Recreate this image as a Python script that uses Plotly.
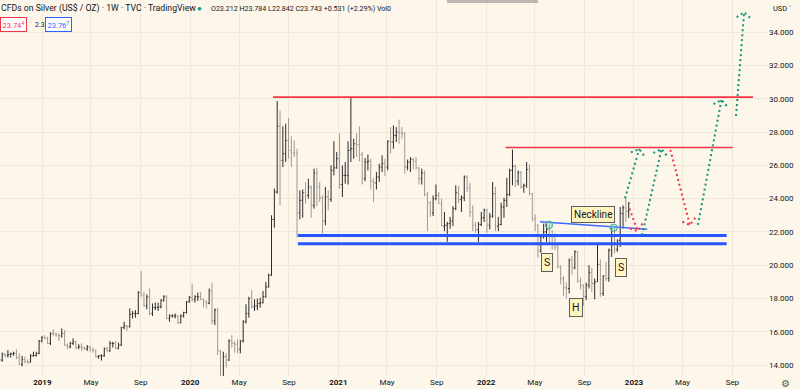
import math
import pandas as pd
import plotly.graph_objects as go

# ---------------- DATA ----------------
FIRST_WEEK = "2018-09-17"   # weekly bars, Monday dates

# [open, high, low, close]
bars_2018 = [
    [14.15, 14.40, 14.10, 14.30], [14.30, 14.75, 14.20, 14.65], [14.65, 14.70, 14.45, 14.58],
    [14.58, 14.90, 14.45, 14.62], [14.62, 14.75, 14.45, 14.68], [14.68, 14.80, 14.55, 14.70],
    [14.70, 14.95, 14.35, 14.45], [14.45, 14.70, 14.00, 14.05], [14.05, 14.55, 13.92, 14.35],
    [14.35, 14.50, 14.10, 14.20], [14.20, 14.35, 14.05, 14.18], [14.18, 14.65, 14.15, 14.55],
    [14.55, 14.80, 14.50, 14.58], [14.58, 14.80, 14.50, 14.70], [14.70, 15.50, 14.65, 15.45],
    [15.45, 15.75, 15.35, 15.65],
]
bars_2019 = [
    [15.65, 15.80, 15.55, 15.60], [15.60, 15.70, 15.25, 15.30], [15.30, 15.95, 15.20, 15.90],
    [15.90, 16.15, 15.75, 15.85], [15.85, 15.95, 15.70, 15.80], [15.80, 15.90, 15.45, 15.75],
    [15.75, 16.20, 15.65, 15.90], [15.90, 16.10, 15.15, 15.20], [15.20, 15.30, 14.95, 15.10],
    [15.10, 15.40, 15.00, 15.30], [15.30, 15.60, 15.20, 15.40], [15.40, 15.45, 14.95, 15.05],
    [15.05, 15.25, 14.95, 15.10], [15.10, 15.30, 14.85, 15.05], [15.05, 15.10, 14.90, 14.98],
    [14.98, 15.20, 14.85, 15.10], [15.10, 15.15, 14.80, 14.95], [14.95, 15.05, 14.75, 14.85],
    [14.85, 14.95, 14.45, 14.50], [14.50, 14.60, 14.38, 14.55], [14.55, 14.65, 14.27, 14.55],
    [14.55, 15.05, 14.50, 14.98], [14.98, 15.10, 14.80, 14.85], [14.85, 15.45, 14.80, 15.30],
    [15.30, 15.40, 15.05, 15.30], [15.30, 15.45, 14.95, 15.00], [15.00, 15.35, 14.95, 15.20],
    [15.20, 16.30, 15.15, 16.25], [16.25, 16.60, 16.15, 16.35], [16.35, 16.40, 16.05, 16.30],
    [16.30, 17.40, 16.25, 17.05], [17.05, 17.25, 16.80, 17.10], [17.10, 17.30, 16.85, 17.10],
    [17.10, 18.45, 17.05, 18.35], [18.35, 19.65, 18.10, 18.20], [18.20, 18.40, 17.50, 17.55],
    [17.55, 18.25, 17.35, 18.10], [18.10, 18.60, 17.00, 17.10], [17.10, 17.70, 16.95, 17.45],
    [17.45, 17.75, 17.30, 17.45], [17.45, 17.75, 17.25, 17.50], [17.50, 17.95, 17.40, 17.90],
    [17.90, 18.20, 17.80, 18.10], [18.10, 18.20, 16.75, 16.80], [16.80, 17.05, 16.60, 16.95],
    [16.95, 17.05, 16.85, 16.95], [16.95, 17.10, 16.80, 16.95], [16.95, 17.00, 16.45, 16.55],
    [16.55, 17.05, 16.50, 16.95], [16.95, 17.20, 16.85, 17.15], [17.15, 17.85, 17.10, 17.80],
    [17.80, 18.15, 17.75, 18.05],
]
bars_2020 = [
    [18.05, 18.90, 17.80, 17.95], [17.95, 18.20, 17.75, 18.10], [18.10, 18.35, 17.85, 18.10],
    [18.10, 18.40, 17.90, 17.95], [17.95, 18.00, 17.45, 17.80], [17.80, 17.90, 17.40, 17.70],
    [17.70, 18.60, 17.65, 18.45], [18.45, 18.95, 16.45, 16.65], [16.65, 17.40, 16.40, 17.30],
    [17.30, 17.45, 14.60, 14.85], [14.85, 14.90, 11.64, 12.55], [12.55, 14.80, 12.45, 14.50],
    [14.50, 14.70, 13.85, 14.30], [14.30, 15.55, 14.25, 15.45], [15.45, 15.80, 15.05, 15.30],
    [15.30, 15.45, 14.75, 15.25], [15.25, 15.55, 14.70, 14.95], [14.95, 15.50, 14.70, 15.45],
    [15.45, 16.70, 15.35, 16.60], [16.60, 17.65, 16.50, 17.10], [17.10, 18.10, 16.85, 18.00],
    [18.00, 18.50, 17.40, 17.50], [17.50, 17.95, 17.25, 17.55], [17.55, 18.00, 17.30, 17.70],
    [17.70, 18.05, 17.45, 17.75], [17.75, 18.45, 17.70, 18.10], [18.10, 19.00, 18.05, 18.70],
    [18.70, 19.50, 18.65, 19.40], [19.40, 23.00, 19.35, 22.75], [22.75, 24.60, 22.25, 24.40],
    [24.40, 29.86, 24.30, 28.35], [28.35, 29.30, 23.60, 26.30], [26.30, 28.35, 25.90, 26.70],
    [26.70, 28.50, 26.20, 27.50], [27.50, 28.85, 26.40, 26.90], [26.90, 27.75, 25.90, 26.75],
    [26.75, 27.50, 26.50, 26.75], [26.75, 27.00, 21.68, 23.15], [23.15, 24.50, 22.75, 23.90],
    [23.90, 24.55, 22.85, 24.35], [24.35, 25.00, 23.70, 24.20], [24.20, 25.20, 24.00, 24.70],
    [24.70, 24.80, 22.85, 23.60], [23.60, 25.80, 23.40, 25.55], [25.55, 25.85, 23.55, 24.70],
    [24.70, 25.00, 23.80, 24.05], [24.05, 24.20, 21.90, 22.65], [22.65, 24.70, 22.40, 24.10],
    [24.10, 24.50, 23.30, 23.95], [23.95, 26.00, 23.80, 25.70], [25.70, 27.45, 25.40, 25.85],
    [25.85, 26.80, 25.80, 26.40],
]
bars_2021 = [
    [26.40, 27.92, 24.60, 24.85], [24.85, 26.00, 24.10, 25.40], [25.40, 26.20, 24.90, 25.40],
    [25.40, 27.45, 24.85, 26.90], [26.90, 30.10, 26.20, 27.00], [27.00, 27.60, 26.40, 27.30],
    [27.30, 27.95, 26.50, 27.25], [27.25, 28.35, 26.25, 26.65], [26.65, 26.80, 24.85, 25.20],
    [25.20, 26.45, 25.05, 26.20], [26.20, 26.65, 25.70, 26.25], [26.25, 26.40, 24.55, 25.05],
    [25.05, 25.25, 23.80, 24.95], [24.95, 25.60, 24.55, 25.30], [25.30, 26.10, 25.00, 25.90],
    [25.90, 26.60, 25.60, 26.10], [26.10, 26.40, 25.35, 25.90], [25.90, 27.50, 25.70, 27.45],
    [27.45, 28.30, 26.70, 27.40], [27.40, 28.40, 27.00, 27.80], [27.80, 28.30, 27.40, 28.00],
    [28.00, 28.75, 27.30, 27.95], [27.95, 28.30, 27.60, 27.90], [27.90, 28.00, 25.50, 25.90],
    [25.90, 26.35, 25.70, 26.20], [26.20, 26.50, 25.60, 26.35], [26.35, 26.45, 25.75, 26.25],
    [26.25, 26.50, 25.75, 25.85], [25.85, 25.90, 24.85, 25.20], [25.20, 25.80, 24.85, 25.55],
    [25.55, 25.70, 24.15, 24.25], [24.25, 24.40, 22.05, 23.75], [23.75, 23.85, 22.90, 23.15],
    [23.15, 24.20, 22.95, 24.00], [24.00, 24.85, 23.90, 24.20], [24.20, 24.40, 23.70, 23.70],
    [23.70, 24.00, 22.35, 22.35], [22.35, 23.20, 22.05, 22.40], [22.40, 22.60, 21.40, 22.50],
    [22.50, 22.90, 22.20, 22.65], [22.65, 23.55, 22.35, 23.40], [23.40, 24.80, 23.30, 24.35],
    [24.35, 24.75, 23.75, 23.95], [23.95, 24.20, 23.20, 24.05], [24.05, 25.40, 23.85, 25.30],
    [25.30, 25.40, 24.40, 24.65], [24.65, 24.95, 22.90, 23.20], [23.20, 23.60, 22.05, 22.40],
    [22.40, 22.60, 21.95, 22.15], [22.15, 22.60, 21.40, 22.45], [22.45, 23.20, 22.35, 22.85],
    [22.85, 23.40, 22.60, 23.30],
]
bars_2022 = [
    [23.30, 23.40, 21.95, 22.40], [22.40, 23.15, 22.15, 22.95], [22.95, 25.00, 22.85, 24.30],
    [24.30, 24.70, 22.05, 22.35], [22.35, 22.90, 22.05, 22.45], [22.45, 23.75, 22.40, 23.50],
    [23.50, 24.05, 22.85, 23.90], [23.90, 25.25, 23.50, 24.25], [24.25, 25.80, 24.15, 25.70],
    [25.70, 26.95, 24.80, 25.95], [25.95, 26.05, 24.70, 25.05], [25.05, 25.70, 24.80, 25.55],
    [25.55, 25.65, 24.60, 24.70], [24.70, 24.90, 24.35, 24.80], [24.80, 26.20, 24.65, 25.75],
    [25.75, 26.05, 24.20, 24.30], [24.30, 24.35, 22.65, 22.80], [22.80, 23.05, 22.05, 22.40],
    [22.40, 22.45, 20.45, 20.85], [20.85, 21.85, 20.75, 21.70], [21.70, 22.50, 21.60, 22.00],
    [22.00, 22.50, 21.40, 22.15], [22.15, 22.45, 21.30, 21.80], [21.80, 22.10, 20.95, 21.70],
    [21.70, 21.90, 20.90, 21.10], [21.10, 21.25, 19.80, 19.90], [19.90, 20.00, 18.85, 19.20],
    [19.20, 19.35, 18.15, 18.65], [18.65, 18.95, 18.00, 18.60], [18.60, 20.40, 18.30, 20.30],
    [20.30, 20.55, 19.45, 19.85], [19.85, 20.90, 19.75, 20.80], [20.80, 20.85, 18.95, 19.05],
    [19.05, 19.25, 18.55, 18.80], [18.80, 18.85, 17.55, 18.10], [18.10, 18.95, 17.90, 18.80],
    [18.80, 20.00, 18.60, 19.55], [19.55, 19.85, 18.40, 18.90], [18.90, 19.20, 17.95, 19.00],
    [19.00, 21.25, 19.00, 20.05], [20.05, 20.35, 18.10, 18.30], [18.30, 19.40, 18.15, 19.35],
    [19.35, 20.20, 19.05, 19.20], [19.20, 21.00, 19.00, 20.90], [20.90, 22.25, 20.50, 21.75],
    [21.75, 22.25, 20.70, 20.95], [20.95, 21.55, 20.80, 21.50], [21.50, 23.50, 21.10, 23.10],
    [23.10, 23.60, 22.20, 23.45], [23.45, 24.10, 22.60, 23.25], [23.21, 23.78, 22.84, 23.74],
]

price_ticks = [14, 16, 18, 20, 22, 24, 26, 28, 30, 32, 34]
time_tick_dates = ["2019-01-01", "2019-05-01", "2019-09-01", "2020-01-01", "2020-05-01",
                   "2020-09-01", "2021-01-01", "2021-05-01", "2021-09-01", "2022-01-01",
                   "2022-05-01", "2022-09-01", "2023-01-01", "2023-05-01", "2023-09-01"]
time_tick_text = ["2019", "May", "Sep", "2020", "May", "Sep", "2021", "May", "Sep",
                  "2022", "May", "Sep", "2023", "May", "Sep"]

# horizontal drawings: [start date, end date, price]
red_top_line = ["2020-07-24", "2023-10-22", 30.10]
red_mid_line = ["2022-02-18", "2023-09-02", 27.07]
blue_upper_line = ["2020-09-23", "2023-08-18", 21.78]
blue_lower_line = ["2020-09-23", "2023-08-18", 21.29]

neckline_dates = ["2022-05-14", "2023-02-03"]
neckline_prices = [22.61, 22.16]
neck_point_dates = ["2022-06-05", "2022-11-12"]
neck_point_prices = [22.42, 22.25]

# projection legs: (dates, prices, colour key)
leg_green_a = (["2022-12-10", "2023-01-14"], [24.02, 26.98], "green")
leg_red_a = (["2022-12-21", "2023-01-10"], [23.40, 22.05], "red")
leg_green_b = (["2023-01-21", "2023-03-10"], [21.81, 26.98], "green")
leg_red_b = (["2023-04-01", "2023-05-19"], [26.93, 22.42], "red")
leg_green_c = (["2023-06-08", "2023-08-05"], [22.42, 29.93], "green")
leg_green_d = (["2023-09-10", "2023-09-30"], [28.97, 35.20], "green")

pattern_labels = ["Neckline", "S", "H", "S"]
pattern_label_dates = ["2022-09-23", "2022-05-31", "2022-08-12", "2022-11-30"]
pattern_label_prices = [23.05, 20.16, 17.43, 19.89]

# ---------------- LAYOUT CONSTANTS ----------------
W, H = 800, 389
M_R, M_B = 32, 13
PLOT_W, PLOT_H = W - M_R, H - M_B
X_RANGE = ["2018-09-18 12:00", "2023-11-28"]
Y_RANGE = [13.34, 35.94]
BG = "#FDF6EB"
GRID = "#F1E8D9"
TXT = "#131722"
FONT = "Roboto, 'Noto Sans', sans-serif"
COL = {"green": "#12957A", "red": "#F23645"}
BLUE = "#2457FF"

all_bars = bars_2018 + bars_2019 + bars_2020 + bars_2021 + bars_2022
dates = pd.date_range(FIRST_WEEK, periods=len(all_bars), freq="W-MON")
opens = [b[0] for b in all_bars]
highs = [b[1] for b in all_bars]
lows = [b[2] for b in all_bars]
closes = [b[3] for b in all_bars]

x0 = pd.Timestamp(X_RANGE[0])
x1 = pd.Timestamp(X_RANGE[1])
px_per_day = PLOT_W / ((x1 - x0).total_seconds() / 86400)
px_per_unit = PLOT_H / (Y_RANGE[1] - Y_RANGE[0])


def to_px(d, p):
    return ((pd.Timestamp(d) - x0).total_seconds() / 86400 * px_per_day,
            (Y_RANGE[1] - p) * px_per_unit)


def from_px(x, y):
    return x0 + pd.Timedelta(days=x / px_per_day), Y_RANGE[1] - y / px_per_unit


def chevron(ds, ps, length=9.0, ang=52):
    ax, ay = to_px(ds[0], ps[0])
    bx, by = to_px(ds[1], ps[1])
    dx, dy = ax - bx, ay - by
    n = math.hypot(dx, dy)
    dx, dy = dx / n, dy / n
    pts = []
    for s in (1, -1):
        t = math.radians(ang * s)
        rx = dx * math.cos(t) - dy * math.sin(t)
        ry = dx * math.sin(t) + dy * math.cos(t)
        pts.append(from_px(bx + length * rx, by + length * ry))
    return ([pts[0][0], pd.Timestamp(ds[1]), pts[1][0]],
            [pts[0][1], ps[1], pts[1][1]])


def paper(px, py):
    return px / PLOT_W, 1 - py / PLOT_H


fig = go.Figure()

fig.add_trace(go.Ohlc(
    x=dates, open=opens, high=highs, low=lows, close=closes,
    increasing=dict(line=dict(color="#2A2A2A", width=1)),
    decreasing=dict(line=dict(color="#9F998F", width=1)),
    tickwidth=0.38, hoverinfo="skip", showlegend=False,
))

# horizontal lines
for ln, col, w in [(red_top_line, COL["red"], 1.6), (red_mid_line, COL["red"], 1.6),
                   (blue_upper_line, BLUE, 3), (blue_lower_line, BLUE, 3)]:
    fig.add_trace(go.Scatter(x=[ln[0], ln[1]], y=[ln[2], ln[2]], mode="lines",
                             line=dict(color=col, width=w), hoverinfo="skip",
                             showlegend=False))

# neckline
fig.add_trace(go.Scatter(x=neckline_dates, y=neckline_prices, mode="lines",
                         line=dict(color="#3F6BFF", width=1.4), hoverinfo="skip",
                         showlegend=False))
fig.add_trace(go.Scatter(x=neck_point_dates, y=neck_point_prices, mode="markers",
                         marker=dict(size=7, color="rgba(120,200,190,0.35)",
                                     line=dict(color="#4FB3A6", width=1.2)),
                         hoverinfo="skip", showlegend=False))

# projections
for ds, ps, ck in [leg_green_a, leg_red_a, leg_green_b, leg_red_b, leg_green_c, leg_green_d]:
    cx, cy = chevron(ds, ps)
    xs = [pd.Timestamp(ds[0]), pd.Timestamp(ds[1]), None] + cx
    ys = [ps[0], ps[1], None] + cy
    fig.add_trace(go.Scatter(x=xs, y=ys, mode="lines",
                             line=dict(color=COL[ck], width=2, dash="2px,3px"),
                             hoverinfo="skip", showlegend=False, cliponaxis=False))

# pattern labels
for t, d, p in zip(pattern_labels, pattern_label_dates, pattern_label_prices):
    fig.add_annotation(x=d, y=p, xref="x", yref="y", text=t, showarrow=False,
                       font=dict(family=FONT, size=10 if t == "Neckline" else 10.5, color=TXT),
                       bgcolor="#FFF4BE", bordercolor="#5E5E5E", borderwidth=1, borderpad=2)

# header texts
def header(text, px, py, size=8, color=TXT, **kw):
    xp, yp = paper(px, py)
    fig.add_annotation(x=xp, y=yp, xref="paper", yref="paper", text=text, showarrow=False,
                       xanchor="left", yanchor="middle",
                       font=dict(family=FONT, size=size, color=color), **kw)

header("CFDs on Silver (US$ / OZ) · 1W · TVC · TradingView", -1, 9, size=8.7)
header("●", 195, 9, size=8, color="#089981")
header("O23.212 H23.784 L22.842 C23.743 +0.531 (+2.29%) Vol0", 209, 9, size=7.1)
header("23.74<sup>4</sup>", 0, 25, size=7.5, color=COL["red"], bordercolor=COL["red"],
       borderwidth=1, borderpad=1.5, bgcolor="#FFFFFF")
header("2.3", 33, 25, size=7)
header("23.76<sup>7</sup>", 45, 25, size=7.5, color="#2962FF", bordercolor="#2962FF",
       borderwidth=1, borderpad=1.5, bgcolor="#FFFFFF")
header("USD ˅", 771, 9, size=7.5)
header("⚙", 779, 383, size=10, color="#555555")

# faint popup shadow at the top edge
sx0, sy0 = paper(447, 0)
sx1, sy1 = paper(538, 3)
fig.add_shape(type="rect", xref="paper", yref="paper", x0=sx0, x1=sx1, y0=sy1, y1=sy0,
              fillcolor="rgba(70,70,70,0.35)", line=dict(width=0), layer="above")

fig.update_layout(
    width=W, height=H, autosize=False,
    margin=dict(l=0, r=M_R, t=0, b=M_B),
    paper_bgcolor=BG, plot_bgcolor=BG,
    showlegend=False, hovermode=False,
    font=dict(family=FONT, size=8, color=TXT),
    xaxis=dict(type="date", range=X_RANGE, rangeslider=dict(visible=False),
               tickvals=time_tick_dates,
               ticktext=[f"<b>{t}</b>" if t.isdigit() else t for t in time_tick_text],
               showgrid=True, gridcolor=GRID, gridwidth=1, zeroline=False,
               showline=False, ticks="", tickfont=dict(size=8, color=TXT)),
    yaxis=dict(side="right", range=Y_RANGE, tickvals=price_ticks, tickformat=".3f",
               showgrid=True, gridcolor=GRID, gridwidth=1, zeroline=False,
               showline=False, ticks="", tickfont=dict(size=8, color=TXT)),
)

fig.write_html("out.html", config={"displayModeBar": False},
               post_script="document.body.style.margin='0';document.body.style.background='%s';" % BG)
